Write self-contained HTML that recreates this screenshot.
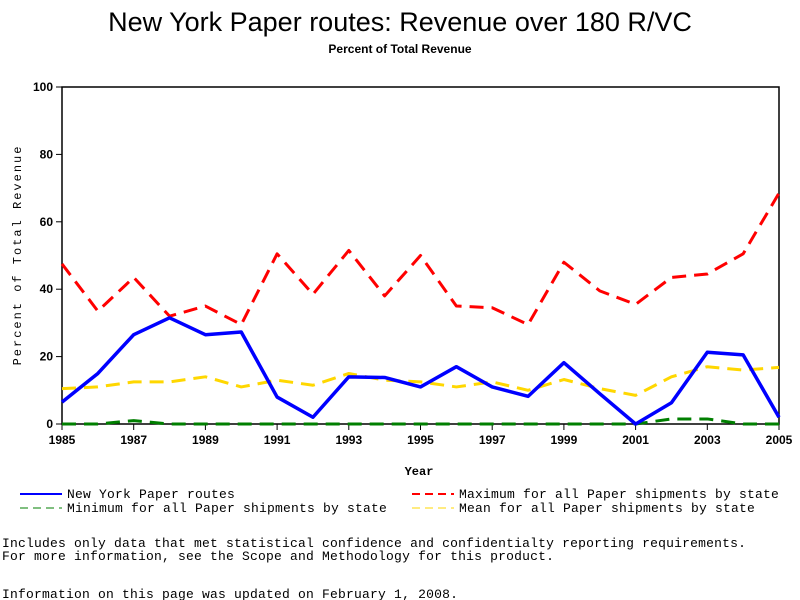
<!DOCTYPE html>
<html><head><meta charset="utf-8"><style>
body{margin:0;background:#fff;width:800px;height:600px;overflow:hidden}
svg{display:block}
</style></head><body>
<svg id="chart" width="800" height="600" xmlns="http://www.w3.org/2000/svg">
<text x="400" y="31" text-anchor="middle" font-family="Liberation Sans, sans-serif" font-size="27">New York Paper routes: Revenue over 180 R/VC</text>
<text x="400" y="53" text-anchor="middle" font-family="Liberation Sans, sans-serif" font-size="12" font-weight="bold">Percent of Total Revenue</text>
<rect x="62" y="87" width="717" height="337" fill="none" stroke="#000" stroke-width="1.5"/>
<g id="axes"></g>
<g id="series"></g>
<text x="419" y="475" text-anchor="middle" font-family="Liberation Mono, monospace" font-size="12" font-weight="bold">Year</text>
<text transform="translate(21,255) rotate(-90)" text-anchor="middle" font-family="Liberation Mono, monospace" font-size="12" letter-spacing="2">Percent of Total Revenue</text>
<g font-family="Liberation Mono, monospace" font-size="13" letter-spacing="0.2">
<g><line x1="20" y1="494" x2="62" y2="494" stroke="#0000ff" stroke-width="2"/><text x="67" y="498">New York Paper routes</text></g>
<g><line x1="412" y1="494" x2="454" y2="494" stroke="#ff0000" stroke-width="2" stroke-dasharray="8,5"/><text x="459" y="498">Maximum for all Paper shipments by state</text></g>
<g><line x1="20" y1="508" x2="62" y2="508" stroke="#007f00" stroke-width="1" stroke-dasharray="8,5"/><text x="67" y="512">Minimum for all Paper shipments by state</text></g>
<g><line x1="412" y1="508" x2="454" y2="508" stroke="#ffd700" stroke-width="1" stroke-dasharray="8,5"/><text x="459" y="512">Mean for all Paper shipments by state</text></g>
</g>
<g font-family="Liberation Mono, monospace" font-size="13" letter-spacing="0.2">
<text x="2" y="547">Includes only data that met statistical confidence and confidentialty reporting requirements.</text>
<text x="2" y="560">For more information, see the Scope and Methodology for this product.</text>
<text x="2" y="598">Information on this page was updated on February 1, 2008.</text>
</g>
</svg>
<script>
const years=[1985,1986,1987,1988,1989,1990,1991,1992,1993,1994,1995,1996,1997,1998,1999,2000,2001,2002,2003,2004,2005];
const nyValues=[6.5,15,26.5,31.5,26.5,27.3,8,2,14,13.8,11,17,11,8.2,18.2,9,0,6.3,21.3,20.5,2];
const maxValues=[47.5,33.5,43.5,32,35,29.5,50.5,38.5,51.5,38,50,35,34.5,29.5,48,39.5,35.5,43.5,44.5,50.5,68.5];
const meanValues=[10.5,11,12.5,12.5,14,11,13,11.5,15,13,12.5,11,12.5,10,13.2,10.5,8.5,14,17,16,16.8];
const minValues=[0,0,1,0,0,0,0,0,0,0,0,0,0,0,0,0,0,1.5,1.5,0,0];
const yTicks=[0,20,40,60,80,100];
const xTicks=[1985,1987,1989,1991,1993,1995,1997,1999,2001,2003,2005];
const NS='http://www.w3.org/2000/svg';
const L=62,R=779,T=87,B=424;
const xs=y=>L+(y-1985)/(2005-1985)*(R-L);
const ys=v=>B-v/100*(B-T);
const axes=document.getElementById('axes'),ser=document.getElementById('series');
function mk(tag,attrs,parent){const e=document.createElementNS(NS,tag);for(const k in attrs)e.setAttribute(k,attrs[k]);parent.appendChild(e);return e;}
yTicks.forEach(v=>{
 const t=mk('line',{x1:L-6,x2:L,y1:ys(v),y2:ys(v),stroke:'#000'},axes);
 
 
 const tx=mk('text',{x:L-9,y:ys(v)+4,'text-anchor':'end','font-family':'Liberation Sans, sans-serif','font-size':'12','font-weight':'bold'},axes);
 tx.textContent=v;
 
 
});
xTicks.forEach(v=>{
 const t=mk('line',{x1:xs(v),x2:xs(v),y1:B,y2:B+6,stroke:'#000'},axes);
 
 
 const tx=mk('text',{x:xs(v),y:B+20,'text-anchor':'middle','font-family':'Liberation Sans, sans-serif','font-size':'12','font-weight':'bold'},axes);
 tx.textContent=v;
 
 
});
function line(vals,color,w,dash,name){
 const p=vals.map((v,i)=>xs(years[i])+','+ys(v)).join(' ');
 const e=mk('polyline',{points:p,fill:'none',stroke:color,'stroke-width':w,'stroke-linejoin':'round'},ser);
 if(dash)e.setAttribute('stroke-dasharray',dash);
 
 
}
line(minValues,'#007f00',3,'14,8','minimum-line');
line(meanValues,'#ffd700',3,'14,8','mean-line');
line(maxValues,'#ff0000',3,'14,8','maximum-line');
line(nyValues,'#0000ff',3.5,null,'new-york-line');
</script>
</body></html>
